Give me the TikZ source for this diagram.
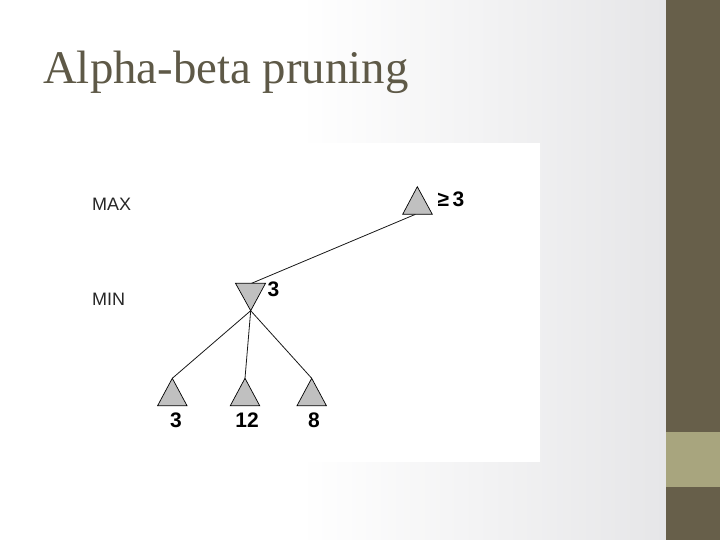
\documentclass[tikz,border=0pt]{standalone}
\usepackage{fontspec}
\setmainfont{Liberation Serif}
\newfontfamily\labelfont{Liberation Sans}
\definecolor{titlebrown}{RGB}{94,89,71}
\definecolor{banddark}{RGB}{103,95,74}
\definecolor{bandlight}{RGB}{168,165,126}
\definecolor{slidegray}{RGB}{230,230,232}
\definecolor{trigray}{RGB}{192,192,192}
\tikzset{
  tri/.style={fill=trigray, draw=black, line width=0.7pt, line join=miter},
  edge/.style={draw=black!90, line width=0.8pt},
  rowlabel/.style={anchor=base west, inner sep=0pt, text=black!85, font=\labelfont\fontsize{18}{21}\selectfont},
  val/.style={inner sep=0pt, font=\labelfont\bfseries\fontsize{21}{24}\selectfont},
}

\begin{document}
\begin{tikzpicture}[x=1pt, y=-1pt]

  %% ==== slide background ====
  \fill[white] (0,0) rectangle (300,540);
  \shade[left color=white, right color=slidegray] (300,0) rectangle (666,540);
  \fill[banddark] (666,0) rectangle (720,540);
  \fill[bandlight] (666,432) rectangle (720,487);

  %% ==== title ====
  \node[anchor=base west, inner sep=0pt, text=titlebrown, font=\fontsize{46.8}{56}\selectfont] (title) at (43,84) {Alpha-beta pruning};

  %% ==== pasted picture (white card) ====
  \fill[white] (75,143) rectangle (540,462);

  % row labels
  \node[rowlabel] (maxrow) at (92,211) {MAX};
  \node[rowlabel] (minrow) at (92,305) {MIN};

  %% ==== anchor points of the tree ====
  \coordinate (maxtop)  at (417.3,186.7);
  \coordinate (maxfoot) at (415.5,214.3);
  \coordinate (minhead) at (251.6,283.3);
  \coordinate (mintip)  at (250.7,310.7);
  \coordinate (leafa) at (172.3,378.3);
  \coordinate (leafb) at (245.0,378.3);
  \coordinate (leafc) at (311.7,378.3);

  %% ==== edges (under the triangles) ====
  \draw[edge] (maxfoot) -- (minhead);
  \foreach \leaf in {leafa,leafb,leafc}
    \draw[edge] (mintip) -- (\leaf);

  %% ==== triangles ====
  \draw[tri] (402.7,214.3) -- (maxtop) -- (432.3,214.3) -- cycle;
  \draw[tri] (235.5,283.3) -- (265.5,283.3) -- (mintip) -- cycle;
  \foreach \leaf/\x in {leafa/172.3, leafb/245.0, leafc/311.7}
    \draw[tri] (\x-14.7,405.7) -- (\leaf) -- (\x+14.7,405.7) -- cycle;

  %% ==== values ====
  \node[val] (maxval) at (451,199) {≥\,3};
  \node[val] (minval) at (273.5,289.5) {3};
  \foreach \name/\x/\v in {vala/176/3, valb/247/12, valc/314/8}
    \node[val] (\name) at (\x,420) {\v};

  % fix the canvas
  \pgfresetboundingbox
  \path[use as bounding box] (0,0) rectangle (720,540);
\end{tikzpicture}
\end{document}
